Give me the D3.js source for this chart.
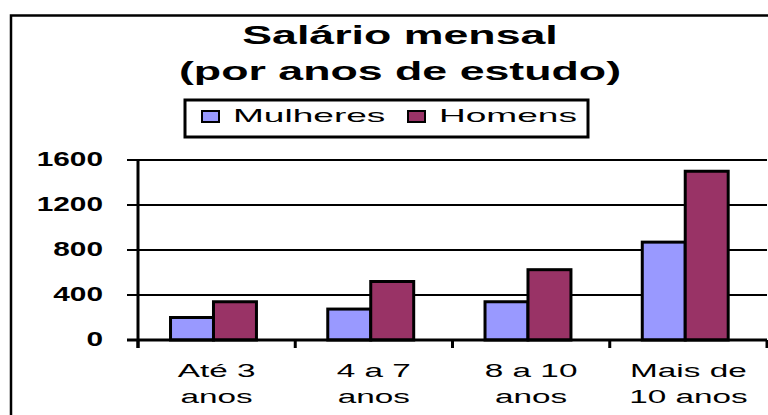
<!DOCTYPE html>
<html>
<head>
<meta charset="utf-8">
<script src="https://cdn.jsdelivr.net/npm/d3@7"></script>
<style>
  body { margin: 0; background: #fff; }
  text { font-family: 'Liberation Sans', Arial, sans-serif; fill: #000; }
</style>
</head>
<body>
<div id="chart"></div>
<script>
const categories = ['Até 3 anos', '4 a 7 anos', '8 a 10 anos', 'Mais de 10 anos']
const categoryLines = [['Até 3', 'anos'], ['4 a 7', 'anos'], ['8 a 10', 'anos'], ['Mais de', '10 anos']]
const seriesNames = ['Mulheres', 'Homens']
const mulheres = [200, 275, 340, 870]
const homens = [340, 520, 625, 1500]
const yTicks = [0, 400, 800, 1200, 1600]
const titleLines = ['Salário mensal', '(por anos de estudo)']

const colors = { Mulheres: '#9999ff', Homens: '#993366' }

const width = 768
const height = 415
const plot = { left: 138, right: 767, top: 160, bottom: 340 }

const svg = d3
  .select('#chart')
  .append('svg')
  .attr('width', width)
  .attr('height', height)

// outer chart frame (runs off the right/bottom edge like the original)
svg
  .append('rect')
  .attr('x', 11)
  .attr('y', 15.5)
  .attr('width', 770)
  .attr('height', 420)
  .attr('fill', 'none')
  .attr('stroke', '#000')
  .attr('stroke-width', 2.5)

// title (the original bitmap font is very wide, so stretch it)
svg
  .selectAll('.title')
  .data(titleLines)
  .enter()
  .append('g')
  .attr('transform', (d, i) => `translate(400,${44 + i * 36}) scale(1.72,1)`)
  .append('text')
  .attr('text-anchor', 'middle')
  .style('font-size', '26px')
  .style('font-weight', 'bold')
  .text(d => d)

// legend
const legend = svg.append('g').attr('transform', 'translate(185,100)')
legend
  .append('rect')
  .attr('width', 403)
  .attr('height', 37)
  .attr('fill', '#fff')
  .attr('stroke', '#000')
  .attr('stroke-width', 3)

const item = legend
  .selectAll('.item')
  .data(seriesNames)
  .enter()
  .append('g')
  .attr('transform', (d, i) => `translate(${16 + i * 206},0)`)

item
  .append('rect')
  .attr('x', 1)
  .attr('y', 11)
  .attr('width', 17)
  .attr('height', 11)
  .attr('fill', d => colors[d])
  .attr('stroke', '#000')
  .attr('stroke-width', 2)

item
  .append('g')
  .attr('transform', 'translate(32,22) scale(1.95,1)')
  .append('text')
  .style('font-size', '19px')
  .text(d => d)

// scales
const x0 = d3
  .scaleBand()
  .domain(categories)
  .range([plot.left, plot.right])
  .padding(0)

const x1 = d3
  .scaleBand()
  .domain(seriesNames)
  .range([0, x0.bandwidth()])
  .paddingInner(0)
  .paddingOuter(0.83)
  .align(0.456)

const y = d3
  .scaleLinear()
  .domain([0, 1600])
  .range([plot.bottom, plot.top])

// gridlines + y ticks
svg
  .selectAll('.grid')
  .data(yTicks)
  .enter()
  .append('line')
  .attr('x1', plot.left - 11)
  .attr('x2', plot.right)
  .attr('y1', d => y(d))
  .attr('y2', d => y(d))
  .attr('stroke', '#000')
  .attr('stroke-width', 2)

svg
  .selectAll('.ylabel')
  .data(yTicks)
  .enter()
  .append('g')
  .attr('transform', d => `translate(103,${y(d) + 6}) scale(1.53,1)`)
  .append('text')
  .attr('text-anchor', 'end')
  .style('font-size', '19.5px')
  .style('font-weight', 'bold')
  .text(d => d)

// bars
const rows = categories.map((c, i) => ({ cat: c, values: [mulheres[i], homens[i]] }))

svg
  .selectAll('.group')
  .data(rows)
  .enter()
  .append('g')
  .attr('transform', d => `translate(${x0(d.cat)},0)`)
  .each(function(d) {
    d3.select(this)
      .selectAll('rect')
      .data(d.values.map((v, i) => ({ key: seriesNames[i], value: v })))
      .enter()
      .append('rect')
      .attr('x', v => x1(v.key))
      .attr('width', x1.bandwidth())
      .attr('y', v => y(v.value))
      .attr('height', v => y(0) - y(v.value))
      .attr('fill', v => colors[v.key])
      .attr('stroke', '#000')
      .attr('stroke-width', 3)
  })

// axes lines
svg
  .append('line')
  .attr('x1', plot.left)
  .attr('x2', plot.left)
  .attr('y1', plot.top)
  .attr('y2', plot.bottom + 8)
  .attr('stroke', '#000')
  .attr('stroke-width', 3)

svg
  .append('line')
  .attr('x1', plot.left - 11)
  .attr('x2', plot.right)
  .attr('y1', plot.bottom)
  .attr('y2', plot.bottom)
  .attr('stroke', '#000')
  .attr('stroke-width', 3)

// category boundary ticks
const bounds = categories.map(c => x0(c)).concat([plot.right])
svg
  .selectAll('.xtick')
  .data(bounds)
  .enter()
  .append('line')
  .attr('x1', d => d)
  .attr('x2', d => d)
  .attr('y1', plot.bottom)
  .attr('y2', plot.bottom + 8)
  .attr('stroke', '#000')
  .attr('stroke-width', 3)

// category labels (two lines)
const xlab = svg
  .selectAll('.xlabel')
  .data(categories)
  .enter()
  .append('g')
  .attr('transform', d => `translate(${x0(d) + x0.bandwidth() / 2},0)`)

xlab
  .selectAll('g')
  .data((d, i) => categoryLines[i])
  .enter()
  .append('g')
  .attr('transform', (d, i) => `translate(0,${377 + i * 26}) scale(1.85,1)`)
  .append('text')
  .attr('text-anchor', 'middle')
  .style('font-size', '18px')
  .text(d => d)
</script>
</body>
</html>
